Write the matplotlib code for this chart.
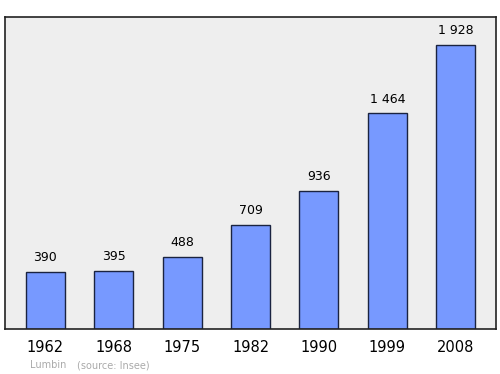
import matplotlib
matplotlib.use('Agg')
import matplotlib.pyplot as plt

years = ['1962', '1968', '1975', '1982', '1990', '1999', '2008']
population = [390, 395, 488, 709, 936, 1464, 1928]
labels = ['390', '395', '488', '709', '936', '1 464', '1 928']

fig = plt.figure(figsize=(5, 3.74), dpi=100)
ax = fig.add_axes([0.01, 0.1203, 0.982, 0.8342])
ax.set_facecolor('#eeeeee')

x = list(range(len(years)))
ax.bar(x, population, width=0.57, color='#7799ff', edgecolor='#1a2340', linewidth=1)

for i, (v, lab) in enumerate(zip(population, labels)):
    ax.annotate(lab, (i, v), xytext=(0, 5.5), textcoords='offset points',
                ha='center', va='bottom', fontsize=9)

ax.set_xlim(-0.59, 6.59)
ax.set_ylim(0, 2118)
ax.set_yticks([])
ax.set_xticks(x)
ax.set_xticklabels(years, fontsize=10.5)
ax.tick_params(axis='x', length=0, pad=8)
for s in ax.spines.values():
    s.set_color('#222222')
    s.set_linewidth(1.2)

fig.text(0.06, 0.016, 'Lumbin', fontsize=7, color='#aaaaaa')
fig.text(0.154, 0.016, '(source: Insee)', fontsize=7, color='#aaaaaa')

fig.savefig('out.png', dpi=100)
